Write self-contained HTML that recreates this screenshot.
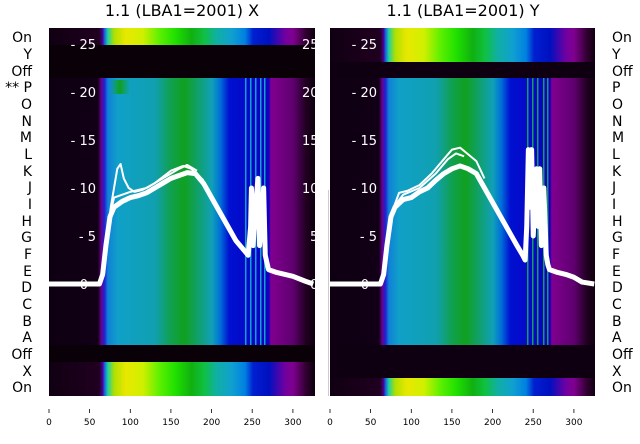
<!DOCTYPE html>
<html><head><meta charset="utf-8"><style>
body{margin:0;background:#fff;width:640px;height:440px;overflow:hidden;font-family:"DejaVu Sans","Liberation Sans",sans-serif}
</style></head><body>
<svg width="640" height="440" xmlns="http://www.w3.org/2000/svg" font-family="DejaVu Sans, Liberation Sans, sans-serif">
<defs>
<linearGradient id="mid" x1="0" x2="1" y1="0" y2="0">
<stop offset="0" stop-color="#0e0012"/><stop offset="0.185" stop-color="#120016"/>
<stop offset="0.197" stop-color="#6a0090"/><stop offset="0.209" stop-color="#2020d0"/>
<stop offset="0.222" stop-color="#1080d8"/><stop offset="0.26" stop-color="#10a0c8"/>
<stop offset="0.40" stop-color="#10a0b0"/><stop offset="0.46" stop-color="#10a050"/>
<stop offset="0.51" stop-color="#10a020"/><stop offset="0.555" stop-color="#10a060"/>
<stop offset="0.615" stop-color="#10a0b8"/><stop offset="0.646" stop-color="#0070d8"/>
<stop offset="0.68" stop-color="#0010d0"/><stop offset="0.83" stop-color="#1000c0"/>
<stop offset="0.837" stop-color="#800090"/><stop offset="0.92" stop-color="#600070"/>
<stop offset="0.97" stop-color="#200020"/><stop offset="1" stop-color="#100010"/>
</linearGradient>
<linearGradient id="bri" x1="0" x2="1" y1="0" y2="0">
<stop offset="0" stop-color="#100012"/><stop offset="0.19" stop-color="#200020"/>
<stop offset="0.203" stop-color="#5000a0"/><stop offset="0.209" stop-color="#1060e0"/>
<stop offset="0.222" stop-color="#20d0a0"/><stop offset="0.246" stop-color="#b0e000"/>
<stop offset="0.29" stop-color="#e8e800"/><stop offset="0.354" stop-color="#d0f000"/>
<stop offset="0.415" stop-color="#60f000"/><stop offset="0.477" stop-color="#20e000"/>
<stop offset="0.538" stop-color="#10b010"/><stop offset="0.585" stop-color="#10c040"/>
<stop offset="0.63" stop-color="#10b0a0"/><stop offset="0.69" stop-color="#10a0d0"/>
<stop offset="0.74" stop-color="#0080e0"/><stop offset="0.77" stop-color="#0020d0"/>
<stop offset="0.83" stop-color="#0010c0"/><stop offset="0.89" stop-color="#7000a0"/>
<stop offset="0.92" stop-color="#800090"/><stop offset="0.97" stop-color="#300030"/>
<stop offset="1" stop-color="#100010"/>
</linearGradient>
<linearGradient id="gp" x1="0" x2="1" y1="0" y2="0">
<stop offset="0" stop-color="#10a020" stop-opacity="0"/><stop offset="0.5" stop-color="#10a020"/><stop offset="1" stop-color="#10a020" stop-opacity="0"/>
</linearGradient>
<clipPath id="c1"><rect x="49" y="28" width="266" height="368"/></clipPath>
<clipPath id="c2"><rect x="330" y="28" width="265" height="368"/></clipPath>
</defs>

<text x="182" y="16" font-size="16" text-anchor="middle">1.1 (LBA1=2001) X</text>
<text x="463" y="16" font-size="16" text-anchor="middle">1.1 (LBA1=2001) Y</text>

<g clip-path="url(#c1)">
<rect x="49" y="28" width="266" height="368" fill="#0c0010"/>
<rect x="49" y="28" width="265" height="17" fill="url(#bri)"/>
<rect x="49" y="45" width="265" height="33" fill="#0a0008"/>
<rect x="49" y="78" width="265" height="267" fill="url(#mid)"/>
<rect x="49" y="345" width="265" height="17" fill="#0a0008"/>
<rect x="49" y="362" width="265" height="34" fill="url(#bri)"/>
<g fill="#10a0d0"><rect x="245" y="78" width="1.5" height="267"/><rect x="250" y="78" width="1.5" height="267"/><rect x="255" y="78" width="1.5" height="267"/><rect x="260" y="78" width="1.5" height="267"/><rect x="264" y="78" width="1.5" height="267"/></g>
<rect x="110" y="80" width="20" height="14" fill="url(#gp)"/>
<g fill="#fff" font-size="13" text-anchor="end">
<text x="96" y="49">- 25</text><text x="96" y="97">- 20</text><text x="96" y="145">- 15</text>
<text x="96" y="193">- 10</text><text x="96" y="241">- 5</text><text x="88" y="289">0</text>
</g>
<g fill="#fff" font-size="13">
<text x="302" y="49">25</text><text x="302" y="97">20</text><text x="302" y="145">15</text>
<text x="302" y="193">10</text><text x="310" y="241">5</text><text x="310" y="289">0</text>
</g>
<g transform="translate(49,284) scale(0.813,-9.6)" fill="none" stroke="#fff" stroke-linejoin="round">
<polyline vector-effect="non-scaling-stroke" stroke-width="5" points="0,0 62,0 66,1 70,4 75,7 80,8 90,8.6 100,9 110,9.2 120,9.5 130,10 140,10.5 150,11 160,11.3 170,11.6 180,11.5 190,10.5 200,9 210,7.5 220,6 230,4.5 240,3.5 245,3 248,6 249,10 251,4 254,8 257,11 259,4 262,7 264,10 266,3 270,1.5 280,1.2 300,0.8 315,0.3 325,0"/>
<polyline vector-effect="non-scaling-stroke" stroke-width="2" points="70,4 76,8 80,10 84,12 88,12.5 92,11 98,10 105,9.6 115,9.8 130,10.5 150,11.8 165,12.3 175,12 190,10.8"/>
<polyline vector-effect="non-scaling-stroke" stroke-width="2" points="72,6 80,9 100,9.6 120,10 140,11 160,12 170,12.4 182,11.8"/>
</g>
</g>

<rect x="315" y="28" width="13" height="368" fill="#fff"/>
<line x1="328.5" y1="190" x2="328.5" y2="396" stroke="#ccc"/>
<g clip-path="url(#c2)">
<rect x="330" y="28" width="265" height="368" fill="#200024"/>
<rect x="330" y="28" width="265" height="34" fill="url(#bri)"/>
<rect x="330" y="62" width="265" height="16" fill="#0e0010"/>
<rect x="330" y="78" width="265" height="267" fill="url(#mid)"/>
<rect x="330" y="345" width="265" height="33" fill="#0e0010"/>
<rect x="330" y="378" width="265" height="18" fill="url(#bri)"/>
<g fill="#10a060"><rect x="527" y="78" width="1.5" height="267"/><rect x="532" y="78" width="1.5" height="267"/><rect x="537" y="78" width="1.5" height="267"/><rect x="543" y="78" width="1.5" height="267"/><rect x="547" y="78" width="1.5" height="267"/></g>
<g fill="#fff" font-size="13" text-anchor="end">
<text x="377" y="49">- 25</text><text x="377" y="97">- 20</text><text x="377" y="145">- 15</text>
<text x="377" y="193">- 10</text><text x="377" y="241">- 5</text><text x="369" y="289">0</text>
</g>
<g transform="translate(330,284) scale(0.813,-9.6)" fill="none" stroke="#fff" stroke-linejoin="round">
<polyline vector-effect="non-scaling-stroke" stroke-width="5" points="0,0 62,0 66,1 70,4 75,7 80,8 90,8.8 100,9 110,9.6 120,10 130,10.8 140,11.5 150,12 160,12.3 170,12 180,11.5 190,10 200,8.5 210,7 220,5.5 230,4 237,3 240,2.5 242,6 244,14 246,8 248,14 250,5 252,9 254,12 256,6 258,12 260,4 263,10 266,3 268,2 270,1.5 280,1.2 290,1 300,0.7 310,0.2 325,0"/>
<polyline vector-effect="non-scaling-stroke" stroke-width="2" points="74,7 85,9.5 95,9.7 110,10.3 125,11.5 140,13 150,14 160,14.2 170,13.5 180,12.8 190,11"/>
<polyline vector-effect="non-scaling-stroke" stroke-width="2" points="78,8 90,9.3 110,10 130,11.5 145,13 155,13.6 165,13.3"/>
</g>
</g>

<g font-size="14" text-anchor="end" fill="#000">
<text x="32" y="42">On</text><text x="32" y="59">Y</text><text x="32" y="76">Off</text><text x="32" y="92">** P</text>
<text x="32" y="109">O</text><text x="32" y="126">N</text><text x="32" y="142">M</text><text x="32" y="159">L</text>
<text x="32" y="176">K</text><text x="32" y="192">J</text><text x="32" y="209">I</text><text x="32" y="226">H</text>
<text x="32" y="242">G</text><text x="32" y="259">F</text><text x="32" y="276">E</text><text x="32" y="292">D</text>
<text x="32" y="309">C</text><text x="32" y="326">B</text><text x="32" y="342">A</text><text x="32" y="359">Off</text>
<text x="32" y="376">X</text><text x="32" y="392">On</text>
</g>
<g font-size="14" fill="#000">
<text x="612" y="42">On</text><text x="612" y="59">Y</text><text x="612" y="76">Off</text><text x="612" y="92">P</text>
<text x="612" y="109">O</text><text x="612" y="126">N</text><text x="612" y="142">M</text><text x="612" y="159">L</text>
<text x="612" y="176">K</text><text x="612" y="192">J</text><text x="612" y="209">I</text><text x="612" y="226">H</text>
<text x="612" y="242">G</text><text x="612" y="259">F</text><text x="612" y="276">E</text><text x="612" y="292">D</text>
<text x="612" y="309">C</text><text x="612" y="326">B</text><text x="612" y="342">A</text><text x="612" y="359">Off</text>
<text x="612" y="376">X</text><text x="612" y="392">On</text>
</g>

<g stroke="#000" stroke-width="0.8">
<line x1="49" y1="409" x2="49" y2="413"/><line x1="89.6" y1="409" x2="89.6" y2="413"/><line x1="130.3" y1="409" x2="130.3" y2="413"/><line x1="170.9" y1="409" x2="170.9" y2="413"/><line x1="211.6" y1="409" x2="211.6" y2="413"/><line x1="252.2" y1="409" x2="252.2" y2="413"/><line x1="292.9" y1="409" x2="292.9" y2="413"/>
<line x1="330" y1="409" x2="330" y2="413"/><line x1="370.6" y1="409" x2="370.6" y2="413"/><line x1="411.3" y1="409" x2="411.3" y2="413"/><line x1="451.9" y1="409" x2="451.9" y2="413"/><line x1="492.6" y1="409" x2="492.6" y2="413"/><line x1="533.2" y1="409" x2="533.2" y2="413"/><line x1="573.9" y1="409" x2="573.9" y2="413"/>
</g>
<g font-size="9" text-anchor="middle" fill="#000">
<text x="49" y="425">0</text><text x="89.6" y="425">50</text><text x="130.3" y="425">100</text><text x="170.9" y="425">150</text><text x="211.6" y="425">200</text><text x="252.2" y="425">250</text><text x="292.9" y="425">300</text>
<text x="330" y="425">0</text><text x="370.6" y="425">50</text><text x="411.3" y="425">100</text><text x="451.9" y="425">150</text><text x="492.6" y="425">200</text><text x="533.2" y="425">250</text><text x="573.9" y="425">300</text>
</g>
</svg>
</body></html>
